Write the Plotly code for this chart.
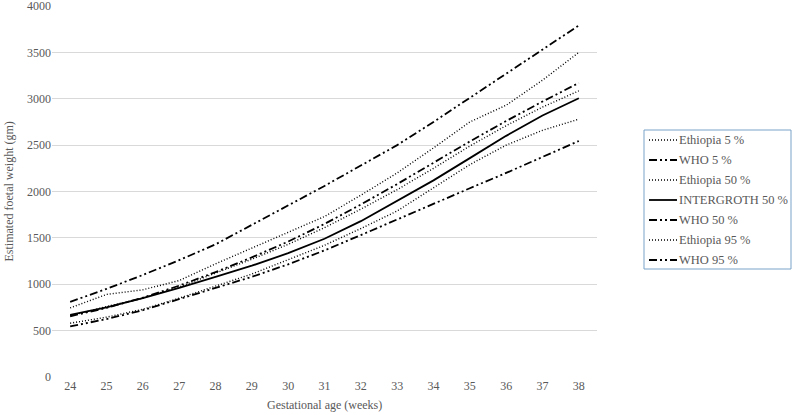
import plotly.graph_objects as go

weeks = list(range(24, 39))

ethiopia_5 = [580, 645, 730, 850, 980, 1110, 1265, 1420, 1600, 1790, 2040, 2290, 2500, 2660, 2780]
who_5 = [545, 625, 720, 840, 960, 1080, 1215, 1365, 1530, 1700, 1870, 2035, 2200, 2370, 2545]
ethiopia_50 = [660, 760, 850, 970, 1120, 1270, 1430, 1610, 1810, 2020, 2250, 2490, 2710, 2910, 3085]
intergroth_50 = [670, 750, 850, 960, 1080, 1200, 1335, 1490, 1680, 1900, 2120, 2360, 2600, 2820, 3005]
who_50 = [655, 745, 855, 985, 1130, 1290, 1460, 1650, 1860, 2080, 2310, 2540, 2760, 2970, 3170]
ethiopia_95 = [745, 890, 940, 1040, 1220, 1390, 1560, 1730, 1960, 2200, 2470, 2750, 2930, 3200, 3500]
who_95 = [810, 950, 1100, 1260, 1430, 1640, 1850, 2060, 2280, 2500, 2750, 3010, 3270, 3530, 3790]

y_ticks = [0, 500, 1000, 1500, 2000, 2500, 3000, 3500, 4000]
legend_labels = ["Ethiopia 5 %", "WHO 5 %", "Ethiopia 50 %", "INTERGROTH 50 %",
                 "WHO 50 %", "Ethiopia 95 %", "WHO 95 %"]

DOT = "1px,2px"
DASHDOT = "8px,3px,2px,3px,2px,3px"

series = [
    (ethiopia_5, DOT, 1.4),
    (who_5, DASHDOT, 1.8),
    (ethiopia_50, DOT, 1.4),
    (intergroth_50, "solid", 1.8),
    (who_50, DASHDOT, 1.8),
    (ethiopia_95, DOT, 1.4),
    (who_95, DASHDOT, 1.8),
]

font_family = "Liberation Serif"
grey = "#595959"

L, R, T, B = 52, 196, 6, 38
W, H = 793, 415
pw, ph = W - L - R, H - T - B

def px_x(p):
    return (p - L) / pw

def px_y(p):
    return (H - B - p) / ph

fig = go.Figure()
shapes = [
    dict(type="rect", xref="paper", yref="paper",
         x0=px_x(644), x1=px_x(791), y0=px_y(269), y1=px_y(130),
         line=dict(color="#7ba3c8", width=1), fillcolor="rgba(0,0,0,0)"),
]
annotations = [
    dict(text="Gestational age (weeks)", xref="paper", yref="paper",
         x=0.5, y=px_y(405), xanchor="center", yanchor="middle", showarrow=False,
         font=dict(family=font_family, size=12, color=grey)),
    dict(text="Estimated foetal weight (gm)", xref="paper", yref="paper",
         x=px_x(8), y=0.5, xanchor="center", yanchor="middle", showarrow=False,
         textangle=-90,
         font=dict(family=font_family, size=12, color=grey)),
]

for i, ((vals, dash, w), label) in enumerate(zip(series, legend_labels)):
    fig.add_trace(go.Scatter(
        x=weeks, y=vals, name=label, mode="lines",
        line=dict(color="black", width=w, dash=dash),
        showlegend=False,
    ))
    row_y = px_y(140 + 20 * i)
    shapes.append(dict(type="line", xref="paper", yref="paper",
                       x0=px_x(649), x1=px_x(677), y0=row_y, y1=row_y,
                       line=dict(color="black", width=w, dash=dash)))
    annotations.append(dict(text=label, xref="paper", yref="paper",
                            x=px_x(677), y=row_y, xanchor="left", yanchor="middle",
                            showarrow=False,
                            font=dict(family=font_family, size=12.5, color=grey)))

fig.update_layout(
    width=W, height=H,
    margin=dict(l=L, r=R, t=T, b=B, autoexpand=False),
    paper_bgcolor="white", plot_bgcolor="white",
    font=dict(family=font_family, size=12, color=grey),
    showlegend=False,
    shapes=shapes,
    annotations=annotations,
    xaxis=dict(
        range=[23.5, 38.5], tickmode="array", tickvals=weeks,
        ticktext=[str(w) for w in weeks],
        showgrid=False, zeroline=False, showline=False,
        ticks="", automargin=False,
        tickfont=dict(family=font_family, size=12, color=grey),
    ),
    yaxis=dict(
        range=[0, 4000], tickmode="array", tickvals=y_ticks,
        showgrid=True, gridcolor="#d9d9d9", gridwidth=1,
        zeroline=False, showline=False, ticks="", automargin=False,
        ticklabeloverflow="allow",
        tickfont=dict(family=font_family, size=12, color=grey),
    ),
)

fig.write_html(
    "out.html",
    config={"displayModeBar": False},
    post_script="document.body.style.margin='0px';document.body.style.overflow='hidden';",
)
